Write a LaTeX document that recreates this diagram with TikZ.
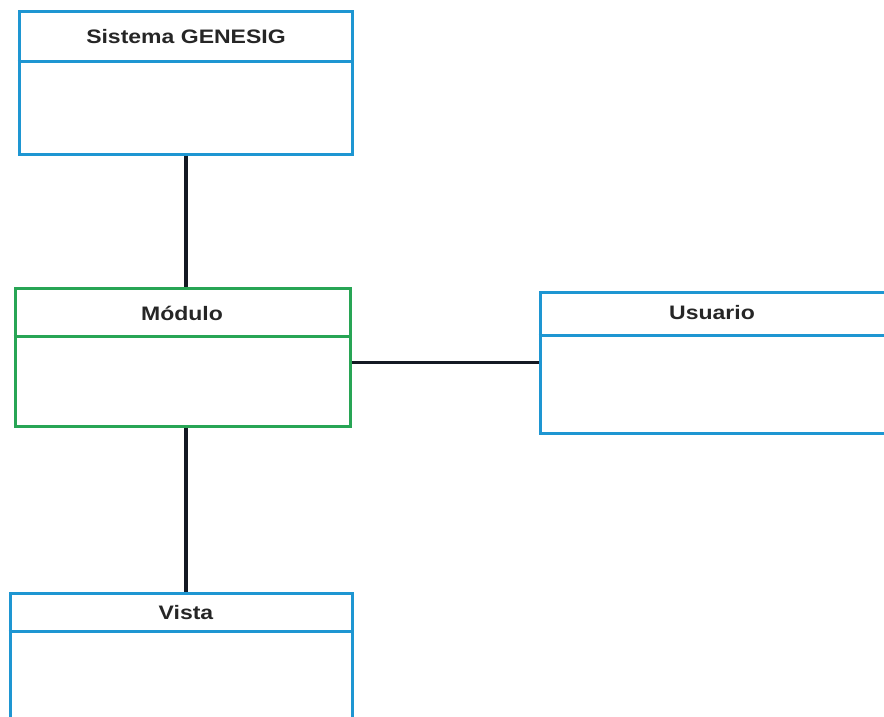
\documentclass[tikz,border=0pt]{standalone}
\usepackage{fontspec}
\setmainfont{Liberation Sans}
\newfontfamily\titlefont[FakeStretch=1.18]{Liberation Sans}
\definecolor{umlblue}{RGB}{30,150,210}
\definecolor{umlgreen}{RGB}{40,165,85}
\definecolor{linkc}{RGB}{20,25,35}
\begin{document}
\begin{tikzpicture}[x=1pt,y=-1pt,
  classbox/.style={draw=umlblue,line width=3pt,rectangle,inner sep=0pt},
  divider/.style={line width=3pt},
  title/.style={font=\titlefont\fontsize{19.5}{21}\selectfont\bfseries,text=black!85,inner sep=0pt},
  link/.style={draw=linkc,line width=3.2pt}]
\useasboundingbox (0,0) rectangle (884,717);
\clip (0,0) rectangle (884,717);
% boxes
\node[classbox,minimum width=333pt,minimum height=142pt] (sis) at (185.5,83) {};
\node[classbox,draw=umlgreen,minimum width=335pt,minimum height=138pt] (mod) at (182.5,357) {};
\node[classbox,minimum width=348pt,minimum height=141pt] (usr) at (714,362.5) {};
\node[classbox,minimum width=342pt,minimum height=132pt] (vis) at (181,659) {};
% dividers
\coordinate (sisd) at (185.5,62);
\coordinate (modd) at (182.5,336);
\coordinate (usrd) at (714,335);
\coordinate (visd) at (181,631);
\draw[divider,umlblue] (sis.west |- sisd) -- (sis.east |- sisd);
\draw[divider,umlgreen] (mod.west |- modd) -- (mod.east |- modd);
\draw[divider,umlblue] (usr.west |- usrd) -- (usr.east |- usrd);
\draw[divider,umlblue] (vis.west |- visd) -- (vis.east |- visd);
% titles
\node[title] (sist) at (186,37) {Sistema GENESIG};
\node[title] (modt) at (182,313) {Módulo};
\node[title] (usrt) at (712,313) {Usuario};
\node[title] (vist) at (186,613) {Vista};
% connectors
\coordinate (cx) at (186,0);
\draw[link] (cx |- sis.south) -- (cx |- mod.north);
\draw[link] (cx |- mod.south) -- (cx |- vis.north);
\draw[link] (mod.east |- usr.west) -- (usr.west);
\end{tikzpicture}
\end{document}
